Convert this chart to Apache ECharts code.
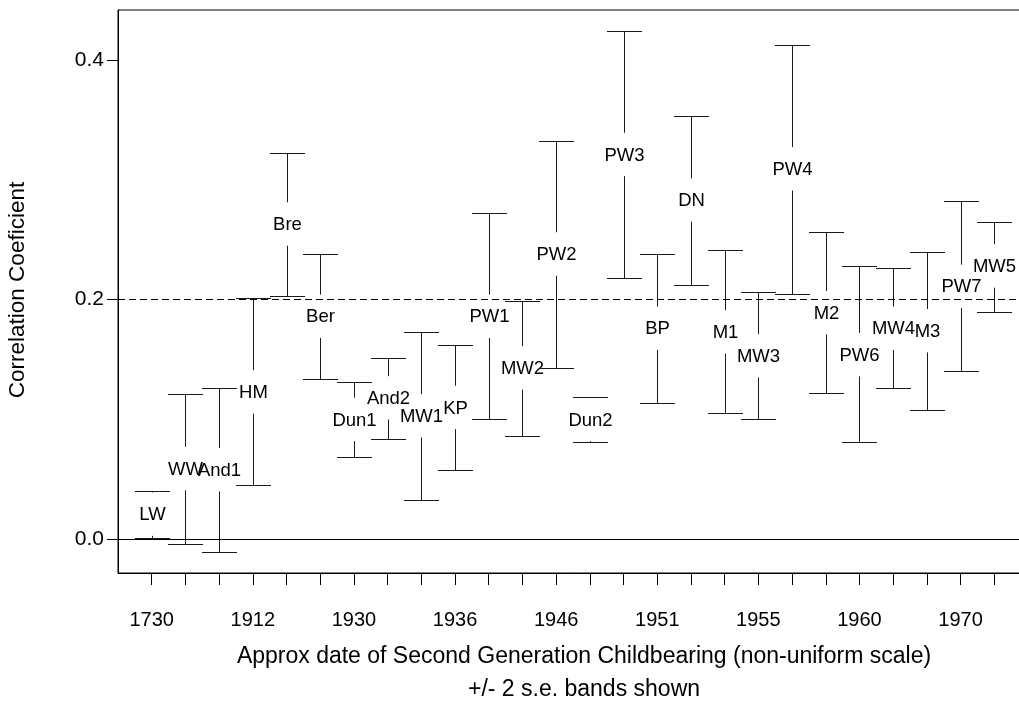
<!DOCTYPE html>
<html>
<head>
<meta charset="utf-8">
<script src="https://cdn.jsdelivr.net/npm/echarts@6/dist/echarts.min.js"></script>
<style>
html,body{margin:0;padding:0;background:#fff;}
#chart{width:1019px;height:722px;}
</style>
</head>
<body>
<div id="chart"></div>
<script>
const groups = ['LW','WW','And1','HM','Bre','Ber','Dun1','And2','MW1','KP','PW1','MW2','PW2','Dun2','PW3','BP','DN','M1','MW3','PW4','M2','PW6','MW4','M3','PW7','MW5'];
const upper = [0.040,0.121,0.126,0.201,0.322,0.238,0.131,0.151,0.173,0.162,0.272,0.199,0.332,0.119,0.424,0.238,0.353,0.241,0.206,0.412,0.256,0.228,0.226,0.240,0.282,0.265];
const lower = [0.001,-0.004,-0.011,0.045,0.203,0.134,0.069,0.084,0.033,0.058,0.100,0.086,0.143,0.081,0.218,0.114,0.212,0.105,0.100,0.205,0.122,0.081,0.126,0.108,0.140,0.190];
const estimate = [0.021,0.059,0.058,0.123,0.263,0.186,0.100,0.118,0.103,0.110,0.186,0.143,0.238,0.100,0.321,0.176,0.283,0.173,0.153,0.309,0.189,0.154,0.176,0.174,0.211,0.228];
const tickYears = ['1730','','','1912','','','1930','','','1936','','','1946','','','1951','','','1955','','','1960','','','1970',''];
const yTicks = [0, 0.2, 0.4];
const refLines = [0, 0.2];

const FONT = '"Liberation Sans", Arial, Helvetica, sans-serif';
const positions = groups.map((g, i) => i + 1);
const labelPositions = positions.filter((p, i) => tickYears[i] !== '');

const chart = echarts.init(document.getElementById('chart'), null, {renderer: 'canvas'});

const option = {
  animation: false,
  backgroundColor: '#fff',
  textStyle: {fontFamily: FONT},
  grid: {left: 118, top: 10, width: 910, height: 563, show: true, borderColor: '#000', borderWidth: 1, backgroundColor: 'transparent', containLabel: false, outerBoundsMode: 'none'},
  xAxis: {
    type: 'value', min: 0, max: groups.length + 1,
    axisLine: {show: true, onZero: false, lineStyle: {color: '#000', width: 1}},
    splitLine: {show: false},
    axisTick: {show: true, customValues: positions, length: 12, inside: false, lineStyle: {color: '#000', width: 1}},
    axisLabel: {show: true, customValues: labelPositions, formatter: v => tickYears[Math.round(v) - 1], margin: 37, fontSize: 20, color: '#000', fontFamily: FONT}
  },
  yAxis: {
    type: 'value', min: -0.0281, max: 0.4415,
    axisLine: {show: true, onZero: false, lineStyle: {color: '#000', width: 1}},
    splitLine: {show: false},
    axisTick: {show: true, customValues: yTicks, length: 11, inside: false, lineStyle: {color: '#000', width: 1}},
    axisLabel: {show: true, customValues: yTicks, formatter: v => v.toFixed(1), margin: 14, fontSize: 21, color: '#000', fontFamily: FONT}
  },
  graphic: [
    {type: 'text', x: 18, y: 290, rotation: Math.PI / 2, style: {text: 'Correlation Coeficient', fontSize: 22.5, fontFamily: FONT, fill: '#000', align: 'center', verticalAlign: 'middle'}},
    {type: 'text', x: 584, y: 657, style: {text: 'Approx date of Second Generation Childbearing (non-uniform scale)', fontSize: 23, fontFamily: FONT, fill: '#000', align: 'center', verticalAlign: 'middle'}},
    {type: 'text', x: 584, y: 690, style: {text: '+/- 2 s.e. bands shown', fontSize: 23, fontFamily: FONT, fill: '#000', align: 'center', verticalAlign: 'middle'}}
  ],
  series: [{
    type: 'custom',
    clip: false,
    data: groups.map((g, i) => [positions[i], lower[i], upper[i], estimate[i]]),
    renderItem: function (params, api) {
      const x = api.value(0);
      const pLo = api.coord([x, api.value(1)]);
      const pHi = api.coord([x, api.value(2)]);
      const pEst = api.coord([x, api.value(3)]);
      const half = api.size([1, 0])[0] * 0.52;
      const gap = 21.7;
      const cx = Math.round(pLo[0]) + 0.5;
      const yHi = Math.round(pHi[1]) + 0.5;
      const yLo = Math.round(pLo[1]) + 0.5;
      const st = {stroke: '#1a1a1a', lineWidth: 1, fill: null};
      const children = [
        {type: 'line', shape: {x1: cx - half, y1: yHi, x2: cx + half, y2: yHi}, style: st},
        {type: 'line', shape: {x1: cx - half, y1: yLo, x2: cx + half, y2: yLo}, style: st}
      ];
      if (pEst[1] - gap > yHi) children.push({type: 'line', shape: {x1: cx, y1: yHi, x2: cx, y2: pEst[1] - gap}, style: st});
      if (pEst[1] + gap < yLo) children.push({type: 'line', shape: {x1: cx, y1: pEst[1] + gap, x2: cx, y2: yLo}, style: st});
      children.push({type: 'text', x: cx, y: pEst[1] + 1, style: {text: groups[params.dataIndex], fontSize: 18.5, fontFamily: FONT, fill: '#000', align: 'center', verticalAlign: 'middle'}});
      return {type: 'group', children: children};
    },
    markLine: {
      silent: true, symbol: 'none', label: {show: false},
      lineStyle: {color: '#000', width: 1},
      data: [
        {yAxis: refLines[0], lineStyle: {type: 'solid', color: '#000', width: 1}},
        {yAxis: refLines[1], lineStyle: {type: [7, 4], color: '#000', width: 1}}
      ]
    }
  }]
};
chart.setOption(option);
</script>
</body>
</html>
